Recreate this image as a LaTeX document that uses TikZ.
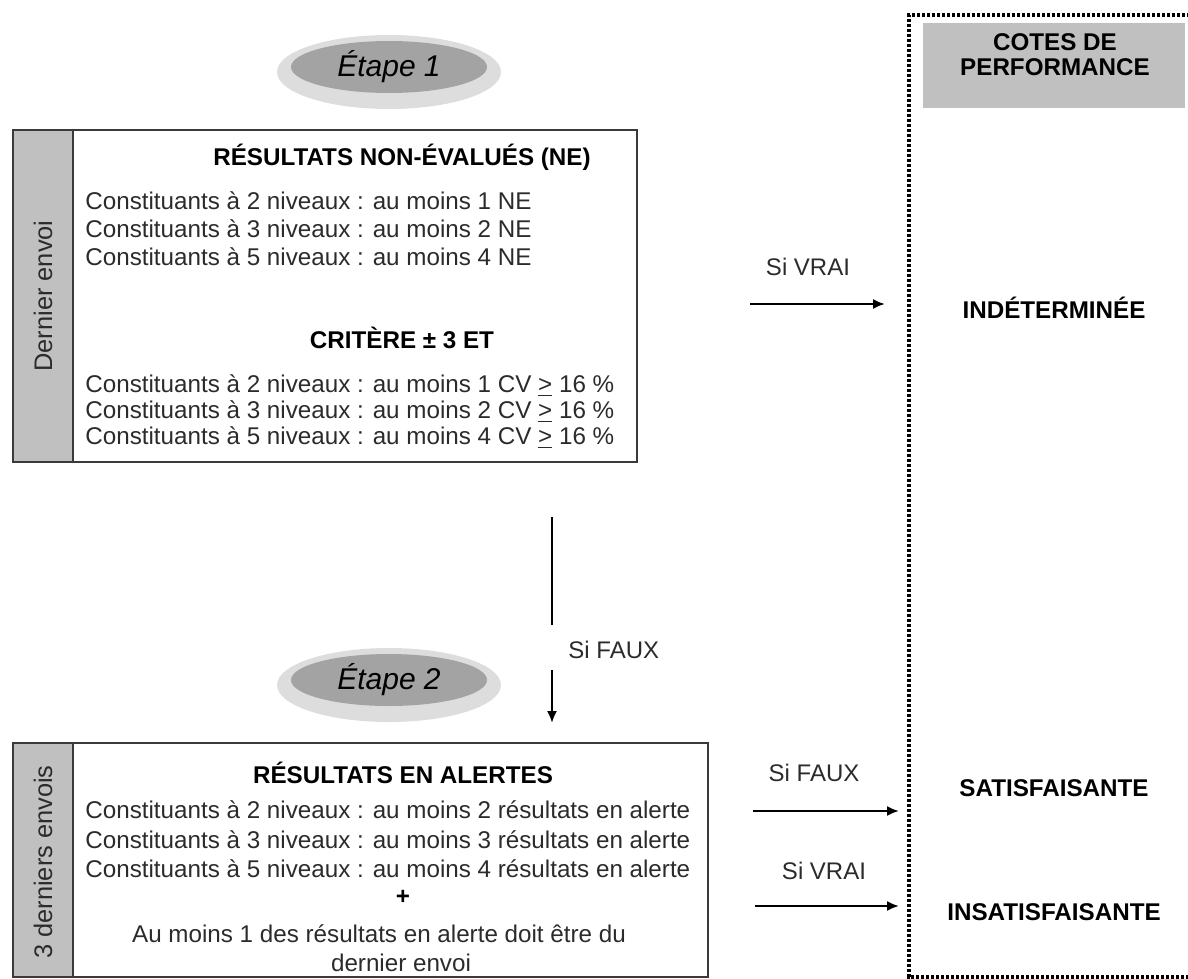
\documentclass[tikz,border=0pt]{standalone}
\usepackage{fontspec}
\setmainfont{Liberation Sans}
\usetikzlibrary{shapes.geometric,arrows.meta,positioning}

\definecolor{stripgray}{HTML}{C0C0C0}
\definecolor{ovalin}{HTML}{A3A3A3}
\definecolor{ovalout}{HTML}{DDDDDD}
\definecolor{txtgray}{HTML}{2B2B2B}
\definecolor{boxline}{HTML}{3A3A3A}

\begin{document}
\begin{tikzpicture}[x=0.5pt,y=-0.5pt,
    boxrule/.style={draw=boxline, line width=1pt},
    etape/.style={ellipse, fill=ovalin, minimum width=98pt, minimum height=26pt,
        inner sep=0pt, font=\itshape\fontsize{15}{18}\selectfont},
    body/.style={anchor=west, inner sep=0pt, text=txtgray, font=\fontsize{12.1}{14}\selectfont},
    head/.style={inner sep=0pt, font=\bfseries\fontsize{12.1}{14}\selectfont},
    sidelabel/.style={rotate=90, inner sep=0pt, text=txtgray, font=\fontsize{12.7}{14}\selectfont},
    cond/.style={inner sep=0pt, text=txtgray, font=\fontsize{12}{14}\selectfont},
    flow/.style={-{Latex[length=6pt,width=5pt]}, line width=1pt},
    cotesline/.style={line width=1.6pt, dash pattern=on 1.6pt off 0.9pt}]
    \useasboundingbox (0,0) rectangle (1188,979);

    % Etape 1 oval
    \fill[ovalout] (389,72) ellipse (56pt and 18.5pt);
    \node[etape] (etape1) at (389,67) {Étape 1};

    % Box 1 : dernier envoi
    \draw[boxrule, fill=stripgray] (13,130) rectangle (73,462);
    \draw[boxrule] (73,130) rectangle (637,462);
    \node[sidelabel] (dernier) at (43,296) {Dernier envoi};

    \node[head] (nehead) at (402,157) {RÉSULTATS NON-ÉVALUÉS (NE)};
    \node[body] (ne2) at (85,201) {Constituants à 2 niveaux : au moins 1 NE};
    \node[body] (ne3) at (85,229) {Constituants à 3 niveaux : au moins 2 NE};
    \node[body] (ne5) at (85,257) {Constituants à 5 niveaux : au moins 4 NE};

    \node[head] (cvhead) at (402,338) {CRITÈRE ± 3 ET};
    \node[body] (cv2) at (85,386) {Constituants à 2 niveaux : au moins 1 CV \underline{>} 16 \%};
    \node[body] (cv3) at (85,412) {Constituants à 3 niveaux : au moins 2 CV \underline{>} 16 \%};
    \node[body] (cv5) at (85,438) {Constituants à 5 niveaux : au moins 4 CV \underline{>} 16 \%};

    % Si FAUX, going down to step 2
    \coordinate (downA) at (552,517);
    \coordinate (downB) at (552,625);
    \coordinate (downC) at (552,670);
    \coordinate (downD) at (552,723);
    \draw[line width=1pt] (downA) -- (downB);
    \draw[flow] (downC) -- (downD);
    \node[cond, anchor=west] (fauxdown) at (568,650) {Si FAUX};

    % Etape 2 oval
    \fill[ovalout] (389,685) ellipse (56pt and 18.5pt);
    \node[etape] (etape2) at (389,680) {Étape 2};

    % Box 2 : 3 derniers envois
    \draw[boxrule, fill=stripgray] (13,743) rectangle (73,977);
    \draw[boxrule] (73,743) rectangle (708,977);
    \node[sidelabel] (troisderniers) at (43,862) {3 derniers envois};

    \node[head] (alhead) at (403,773) {RÉSULTATS EN ALERTES};
    \node[body] (al2) at (85,810) {Constituants à 2 niveaux : au moins 2 résultats en alerte};
    \node[body] (al3) at (85,840) {Constituants à 3 niveaux : au moins 3 résultats en alerte};
    \node[body] (al5) at (85,869) {Constituants à 5 niveaux : au moins 4 résultats en alerte};
    \node[head] (plus) at (403,897) {+};
    \node[cond, font=\fontsize{12.1}{14}\selectfont] (dernier1) at (379,934) {Au moins 1 des résultats en alerte doit être du};
    \node[cond, font=\fontsize{12.1}{14}\selectfont] (dernier2) at (401,963) {dernier envoi};

    % Cotes de performance (dotted frame)
    \draw[cotesline] (1190,15) -- (909,15) -- (909,977) -- (1190,977);
    \fill[stripgray] (923,23) rectangle (1185,108);
    \node[head, align=center] (cotes) at (1055,55) {COTES DE\\[-1.5pt]PERFORMANCE};

    \node[head] (indet) at (1054,308) {INDÉTERMINÉE};
    \node[head] (satis) at (1054,788) {SATISFAISANTE};
    \node[head] (insatis) at (1054,912) {INSATISFAISANTE};

    % Arrows to the cotes
    \coordinate (vraiA) at (750,304);
    \coordinate (vraiB) at (885,304);
    \draw[flow] (vraiA) -- (vraiB);
    \node[cond] (vrai1) at (808,267) {Si VRAI};

    \coordinate (fauxA) at (753,811);
    \coordinate (fauxB) at (899,811);
    \draw[flow] (fauxA) -- (fauxB);
    \node[cond] (faux2) at (814,773) {Si FAUX};

    \coordinate (vrai2A) at (755,906);
    \coordinate (vrai2B) at (899,906);
    \draw[flow] (vrai2A) -- (vrai2B);
    \node[cond] (vrai2) at (824,871) {Si VRAI};
\end{tikzpicture}
\end{document}
